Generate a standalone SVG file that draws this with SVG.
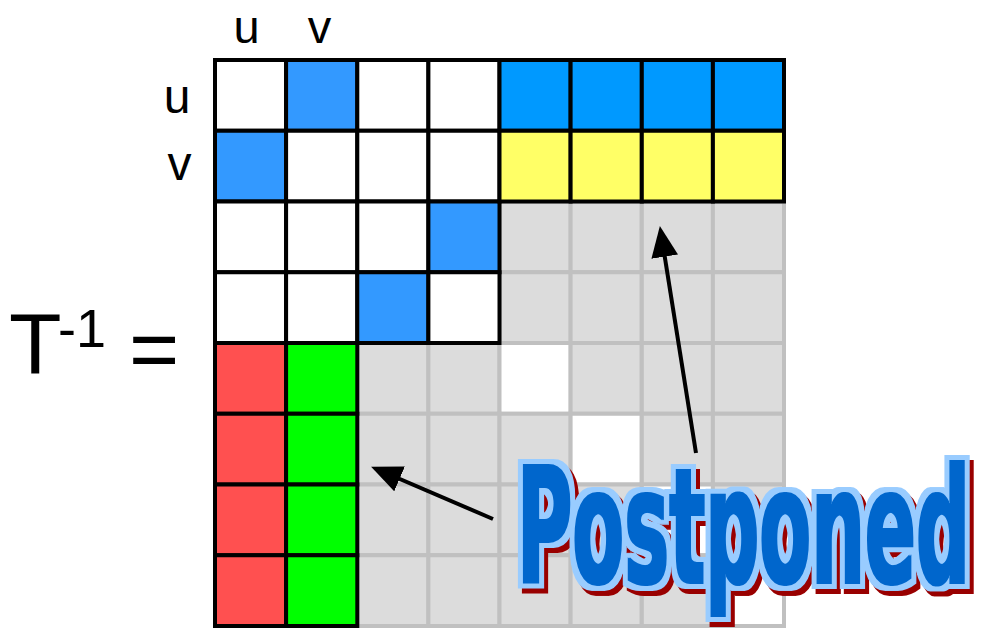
<svg xmlns="http://www.w3.org/2000/svg" width="990" height="628" viewBox="0 0 990 628">
  <defs>
    <style>
      .g{fill:#dcdcdc;stroke:#c0c0c0;stroke-width:4}
      .w{fill:#ffffff;stroke:#c0c0c0;stroke-width:4}
      .b{stroke:#000;stroke-width:4}
      .wb{fill:#ffffff}
      .db{fill:#3399ff}
      .tb{fill:#0099ff}
      .yl{fill:#ffff66}
      .rd{fill:#ff5050}
      .gn{fill:#00ff00}
      .lbl{font-family:"Liberation Sans",Arial,sans-serif;fill:#000}
      .pp{font-family:"DejaVu Sans","Liberation Sans",sans-serif;font-weight:bold;font-size:160px;fill:#0066cc}
      .arr{stroke:#000;stroke-width:4;fill:none;marker-end:url(#ah)}
    </style>
    <marker id="ah" viewBox="0 0 31 27" markerWidth="31" markerHeight="27" refX="20" refY="13.5" orient="auto" markerUnits="userSpaceOnUse">
      <path d="M0,0 L31,13.5 L0,27 z" fill="#000"/>
    </marker>
    <filter id="ppfx" x="-5%" y="-20%" width="112%" height="145%" color-interpolation-filters="sRGB">
      <feMorphology in="SourceAlpha" operator="dilate" radius="1.2" result="core"/>
      <feMorphology in="SourceAlpha" operator="dilate" radius="5.5" result="outer"/>
      <feOffset in="outer" dx="4" dy="5" result="sh"/>
      <feFlood flood-color="#990000"/>
      <feComposite in2="sh" operator="in" result="shc"/>
      <feFlood flood-color="#99ccff"/>
      <feComposite in2="outer" operator="in" result="outc"/>
      <feFlood flood-color="#0066cc"/>
      <feComposite in2="core" operator="in" result="corec"/>
      <feMerge>
        <feMergeNode in="shc"/>
        <feMergeNode in="outc"/>
        <feMergeNode in="corec"/>
      </feMerge>
    </filter>
  </defs>
  <rect width="990" height="628" fill="#fff"/>

  <!-- grey background grid -->
  <g id="grey-grid">
    <rect class="g" x="499.5" y="201.5" width="71.1" height="70.75"/>
    <rect class="g" x="570.6" y="201.5" width="71.1" height="70.75"/>
    <rect class="g" x="641.8" y="201.5" width="71.1" height="70.75"/>
    <rect class="g" x="712.9" y="201.5" width="71.1" height="70.75"/>
    <rect class="g" x="499.5" y="272.25" width="71.1" height="70.75"/>
    <rect class="g" x="570.6" y="272.25" width="71.1" height="70.75"/>
    <rect class="g" x="641.8" y="272.25" width="71.1" height="70.75"/>
    <rect class="g" x="712.9" y="272.25" width="71.1" height="70.75"/>

    <rect class="g" x="357.3" y="343" width="71.1" height="70.75"/>
    <rect class="g" x="428.4" y="343" width="71.1" height="70.75"/>
    <rect class="w" x="499.5" y="343" width="71.1" height="70.75"/>
    <rect class="g" x="570.6" y="343" width="71.1" height="70.75"/>
    <rect class="g" x="641.8" y="343" width="71.1" height="70.75"/>
    <rect class="g" x="712.9" y="343" width="71.1" height="70.75"/>

    <rect class="g" x="357.3" y="413.75" width="71.1" height="70.75"/>
    <rect class="g" x="428.4" y="413.75" width="71.1" height="70.75"/>
    <rect class="g" x="499.5" y="413.75" width="71.1" height="70.75"/>
    <rect class="w" x="570.6" y="413.75" width="71.1" height="70.75"/>
    <rect class="g" x="641.8" y="413.75" width="71.1" height="70.75"/>
    <rect class="g" x="712.9" y="413.75" width="71.1" height="70.75"/>

    <rect class="g" x="357.3" y="484.5" width="71.1" height="70.75"/>
    <rect class="g" x="428.4" y="484.5" width="71.1" height="70.75"/>
    <rect class="g" x="499.5" y="484.5" width="71.1" height="70.75"/>
    <rect class="g" x="570.6" y="484.5" width="71.1" height="70.75"/>
    <rect class="w" x="641.8" y="484.5" width="71.1" height="70.75"/>
    <rect class="g" x="712.9" y="484.5" width="71.1" height="70.75"/>

    <rect class="g" x="357.3" y="555.25" width="71.1" height="70.75"/>
    <rect class="g" x="428.4" y="555.25" width="71.1" height="70.75"/>
    <rect class="g" x="499.5" y="555.25" width="71.1" height="70.75"/>
    <rect class="g" x="570.6" y="555.25" width="71.1" height="70.75"/>
    <rect class="g" x="641.8" y="555.25" width="71.1" height="70.75"/>
    <rect class="w" x="712.9" y="555.25" width="71.1" height="70.75"/>
  </g>

  <!-- top-left 4x4 block -->
  <g id="block-top-left" class="b">
    <rect class="wb" x="215" y="60" width="71.1" height="70.75"/>
    <rect class="db" x="286.1" y="60" width="71.2" height="70.75"/>
    <rect class="wb" x="357.3" y="60" width="71.1" height="70.75"/>
    <rect class="wb" x="428.4" y="60" width="71.1" height="70.75"/>
    <rect class="db" x="215" y="130.75" width="71.1" height="70.75"/>
    <rect class="wb" x="286.1" y="130.75" width="71.2" height="70.75"/>
    <rect class="wb" x="357.3" y="130.75" width="71.1" height="70.75"/>
    <rect class="wb" x="428.4" y="130.75" width="71.1" height="70.75"/>
    <rect class="wb" x="215" y="201.5" width="71.1" height="70.75"/>
    <rect class="wb" x="286.1" y="201.5" width="71.2" height="70.75"/>
    <rect class="wb" x="357.3" y="201.5" width="71.1" height="70.75"/>
    <rect class="db" x="428.4" y="201.5" width="71.1" height="70.75"/>
    <rect class="wb" x="215" y="272.25" width="71.1" height="70.75"/>
    <rect class="wb" x="286.1" y="272.25" width="71.2" height="70.75"/>
    <rect class="db" x="357.3" y="272.25" width="71.1" height="70.75"/>
    <rect class="wb" x="428.4" y="272.25" width="71.1" height="70.75"/>
  </g>

  <!-- top-right rows u,v -->
  <g id="block-top-right" class="b">
    <rect class="tb" x="499.5" y="60" width="71.1" height="70.75"/>
    <rect class="tb" x="570.6" y="60" width="71.2" height="70.75"/>
    <rect class="tb" x="641.8" y="60" width="71.1" height="70.75"/>
    <rect class="tb" x="712.9" y="60" width="71.1" height="70.75"/>
    <rect class="yl" x="499.5" y="130.75" width="71.1" height="70.75"/>
    <rect class="yl" x="570.6" y="130.75" width="71.2" height="70.75"/>
    <rect class="yl" x="641.8" y="130.75" width="71.1" height="70.75"/>
    <rect class="yl" x="712.9" y="130.75" width="71.1" height="70.75"/>
  </g>

  <!-- bottom-left columns u,v -->
  <g id="block-bottom-left" class="b">
    <rect class="rd" x="215" y="343" width="71.1" height="70.75"/>
    <rect class="gn" x="286.1" y="343" width="71.2" height="70.75"/>
    <rect class="rd" x="215" y="413.75" width="71.1" height="70.75"/>
    <rect class="gn" x="286.1" y="413.75" width="71.2" height="70.75"/>
    <rect class="rd" x="215" y="484.5" width="71.1" height="70.75"/>
    <rect class="gn" x="286.1" y="484.5" width="71.2" height="70.75"/>
    <rect class="rd" x="215" y="555.25" width="71.1" height="70.75"/>
    <rect class="gn" x="286.1" y="555.25" width="71.2" height="70.75"/>
  </g>

  <!-- labels -->
  <g id="labels">
    <text class="lbl" x="246.5" y="43" font-size="47" text-anchor="middle">u</text>
    <text class="lbl" x="319.5" y="43" font-size="47" text-anchor="middle">v</text>
    <text class="lbl" x="177" y="113" font-size="48" text-anchor="middle">u</text>
    <text class="lbl" x="179.5" y="180" font-size="48" text-anchor="middle">v</text>
    <text class="lbl" x="9" y="373" font-size="86">T</text>
    <text class="lbl" x="58" y="347" font-size="54">-1</text>
    <text class="lbl" x="129" y="378" font-size="86">=</text>
  </g>

  <!-- connectors -->
  <g id="connectors">
    <line class="arr" x1="696" y1="453" x2="661.6" y2="236.9"/>
    <line class="arr" x1="493" y1="519" x2="381.2" y2="471"/>
  </g>

  <!-- Postponed title -->
  <g id="postponed" filter="url(#ppfx)">
    <text class="pp" transform="translate(517,583) scale(0.472,1)" x="0" y="0" textLength="960" lengthAdjust="spacingAndGlyphs">Postponed</text>
  </g>
</svg>
